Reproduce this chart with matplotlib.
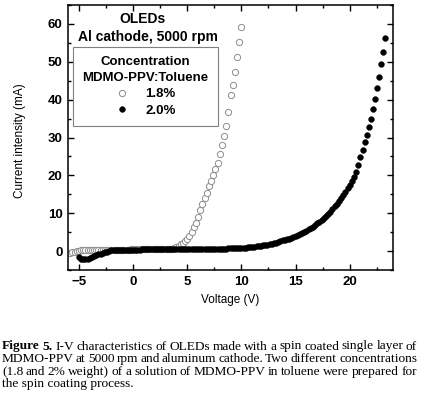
import matplotlib
matplotlib.use("Agg")
import matplotlib.pyplot as plt
from matplotlib.ticker import MultipleLocator

plt.rcParams['font.family'] = ['Liberation Sans', 'DejaVu Sans']
plt.rcParams['font.weight'] = 'bold'

# 1.8% MDMO-PPV:Toluene (open circles)
v18 = [-5.8, -5.6, -5.4, -5.2, -5.0, -4.8, -4.6, -4.4, -4.2, -4.0,
       -3.8, -3.6, -3.4, -3.2, -3.0, -2.8, -2.6, -2.4, -2.2, -2.0,
       -1.8, -1.6, -1.4, -1.2, -1.0, -0.8, -0.6, -0.4, -0.2, 0.0,
       0.2, 0.4, 0.6, 0.8, 1.0, 1.2, 1.4, 1.6, 1.8, 2.0,
       2.2, 2.4, 2.6, 2.8, 3.0, 3.2, 3.4, 3.6, 3.8, 4.0,
       4.2, 4.4, 4.6, 4.8, 5.0, 5.2, 5.4, 5.6, 5.8, 6.0,
       6.2, 6.4, 6.6, 6.8, 7.0, 7.2, 7.4, 7.6, 7.8, 8.0,
       8.2, 8.4, 8.6, 8.8, 9.0, 9.2, 9.4, 9.6, 9.8, 10.0]
i18 = [-0.5, -0.35, -0.15, 0.0, 0.15, 0.25, 0.3, 0.3, 0.3, 0.25,
       0.25, 0.3, 0.3, 0.35, 0.35, 0.35, 0.4, 0.4, 0.4, 0.4,
       0.4, 0.4, 0.4, 0.4, 0.41, 0.41, 0.41, 0.41, 0.42, 0.42,
       0.42, 0.42, 0.42, 0.43, 0.43, 0.43, 0.43, 0.44, 0.44, 0.44,
       0.44, 0.45, 0.45, 0.45, 0.45, 0.46, 0.47, 0.5, 0.75, 1.05,
       1.4, 1.75, 2.2, 2.7, 3.2, 4.0, 5.0, 6.3, 7.5, 9.0,
       10.8, 12.5, 14.0, 15.4, 17.1, 18.6, 20.1, 21.8, 23.2, 25.7,
       28.1, 30.5, 33.1, 36.7, 41.2, 44.0, 47.4, 51.2, 55.3, 59.2]

# 2.0% MDMO-PPV:Toluene (filled circles)
v20 = [-5.0, -4.8, -4.6, -4.4, -4.2, -4.0, -3.8, -3.6, -3.4, -3.2,
       -3.0, -2.8, -2.6, -2.4, -2.2, -2.0, -1.8, -1.6, -1.4, -1.2,
       -1.0, -0.8, -0.6, -0.4, -0.2, 0.0, 0.2, 0.4, 0.6, 0.8,
       1.0, 1.2, 1.4, 1.6, 1.8, 2.0, 2.2, 2.4, 2.6, 2.8,
       3.0, 3.2, 3.4, 3.6, 3.8, 4.0, 4.2, 4.4, 4.6, 4.8,
       5.0, 5.2, 5.4, 5.6, 5.8, 6.0, 6.2, 6.4, 6.6, 6.8,
       7.0, 7.2, 7.4, 7.6, 7.8, 8.0, 8.2, 8.4, 8.6, 8.8,
       9.0, 9.2, 9.4, 9.6, 9.8, 10.0, 10.2, 10.4, 10.6, 10.8,
       11.0, 11.2, 11.4, 11.6, 11.8, 12.0, 12.2, 12.4, 12.6, 12.8,
       13.0, 13.2, 13.4, 13.6, 13.8, 14.0, 14.2, 14.4, 14.6, 14.8,
       15.0, 15.2, 15.4, 15.6, 15.8, 16.0, 16.2, 16.4, 16.6, 16.8,
       17.0, 17.2, 17.4, 17.6, 17.8, 18.0, 18.2, 18.4, 18.6, 18.8,
       19.0, 19.2, 19.4, 19.6, 19.8, 20.0, 20.2, 20.4, 20.58, 20.76,
       20.98, 21.2, 21.38, 21.56, 21.74, 21.95, 22.13, 22.35, 22.5, 22.7,
       22.9, 23.08, 23.27]
i20 = [-1.6, -2.1, -2.2, -2.15, -2.0, -1.75, -1.5, -1.25, -1.0, -0.8,
       -0.65, -0.5, -0.35, -0.25, 0.0, 0.2, 0.3, 0.35, 0.35, 0.38,
       0.4, 0.4, 0.4, 0.4, 0.4, 0.4, 0.41, 0.41, 0.41, 0.42,
       0.42, 0.42, 0.42, 0.43, 0.43, 0.43, 0.43, 0.44, 0.44, 0.44,
       0.45, 0.45, 0.45, 0.46, 0.46, 0.47, 0.47, 0.48, 0.48, 0.49,
       0.5, 0.5, 0.51, 0.52, 0.52, 0.53, 0.54, 0.55, 0.55, 0.56,
       0.57, 0.58, 0.59, 0.6, 0.61, 0.62, 0.64, 0.65, 0.67, 0.69,
       0.71, 0.73, 0.76, 0.79, 0.82, 0.86, 0.9, 0.94, 0.99, 1.04,
       1.1, 1.16, 1.23, 1.3, 1.4, 1.5, 1.6, 1.72, 1.85, 1.98,
       2.1, 2.25, 2.4, 2.6, 2.8, 3.0, 3.15, 3.3, 3.5, 3.75,
       4.0, 4.25, 4.5, 4.8, 5.05, 5.35, 5.7, 6.05, 6.45, 6.9,
       7.3, 7.75, 8.2, 8.65, 9.2, 9.8, 10.4, 11.1, 11.8, 12.5,
       13.3, 14.1, 14.9, 15.7, 16.6, 17.5, 18.4, 19.6, 21.0, 22.7,
       24.8, 26.8, 28.7, 30.7, 32.7, 35.0, 37.5, 40.1, 43.0, 46.0,
       49.3, 52.7, 56.4]

labels = ['1.8%', '2.0%']

caption_bold = "Figure 5."
caption_lines = [
    "I-V characteristics of OLEDs made with a spin coated single layer of",
    "MDMO-PPV at 5000 rpm and aluminum cathode. Two different concentrations",
    "(1.8 and 2% weight) of a solution of MDMO-PPV in toluene were prepared for",
    "the spin coating process.",
]

W, H = 425, 399
fig = plt.figure(figsize=(W / 100, H / 100), dpi=100)
ax = fig.add_axes([68 / W, 1 - 270 / H, 325 / W, 265 / H])

ax.plot(v18, i18, 'o', mfc='white', mec='#8c8c8c', mew=0.7, ms=4.5,
        label=labels[0], zorder=2)
ax.plot(v20, i20, 'o', mfc='black', mec='black', mew=0.3, ms=4.2,
        label=labels[1], zorder=3)

ax.set_xlim(-6, 24)
ax.set_ylim(-5, 65)
ax.xaxis.set_major_locator(MultipleLocator(5))
ax.xaxis.set_minor_locator(MultipleLocator(2.5))
ax.yaxis.set_major_locator(MultipleLocator(10))
ax.yaxis.set_minor_locator(MultipleLocator(5))
ax.tick_params(which='both', direction='in', top=True, right=True, width=1)
ax.tick_params(which='major', length=4, labelsize=9.5, pad=4)
ax.tick_params(which='minor', length=2)
for s in ax.spines.values():
    s.set_linewidth(1.1)

ax.set_xlabel('Voltage (V)', fontsize=8.5, fontweight='normal', va='center')
ax.xaxis.set_label_coords(0.5, -30 / 265)
ax.set_ylabel('Current intensity (mA)', fontsize=8.5, fontweight='normal', va='center')
ax.yaxis.set_label_coords(-48 / 325, 0.49)

fig.text(143 / W, 1 - 19 / H, 'OLEDs', ha='center', va='center', fontsize=10)
fig.text(148 / W, 1 - 37 / H, 'Al cathode, 5000 rpm', ha='center', va='center', fontsize=10)

leg = ax.legend(title='Concentration\nMDMO-PPV:Toluene', loc='upper left',
                bbox_to_anchor=((73 - 68) / 325, (270 - 47) / 265),
                fancybox=False, edgecolor='#808080', framealpha=1,
                alignment='center', fontsize=9.5, title_fontsize=9.5,
                handletextpad=1.3, borderpad=0.7, labelspacing=0.3,
                borderaxespad=0, handlelength=1.0)
leg.get_frame().set_linewidth(0.8)
leg.get_title().set_multialignment('center')
leg.get_title().set_linespacing(1.45)

# caption, justified like the journal layout
r = fig.canvas.get_renderer()
cap = dict(family='Liberation Serif', fontsize=9.6, va='baseline')


def text_w(s, weight):
    t = fig.text(0, 0, s, fontweight=weight, **cap)
    w = t.get_window_extent(r).width
    t.remove()
    return w


baselines = [349.5, 362.3, 375, 387.5]
x0, x1 = 2, 417
for n, line in enumerate(caption_lines):
    words = [(w, 'normal') for w in line.split()]
    if n == 0:
        words = [(w, 'bold') for w in caption_bold.split()] + words
    y = 1 - baselines[n] / H
    if n == len(caption_lines) - 1:
        fig.text(x0 / W, y, line, fontweight='normal', **cap)
        continue
    widths = [text_w(w, wt) for w, wt in words]
    gap = (x1 - x0 - sum(widths)) / (len(words) - 1)
    x = x0
    for (w, wt), ww in zip(words, widths):
        fig.text(x / W, y, w, fontweight=wt, **cap)
        x += ww + gap

fig.savefig('out.png', dpi=100)
